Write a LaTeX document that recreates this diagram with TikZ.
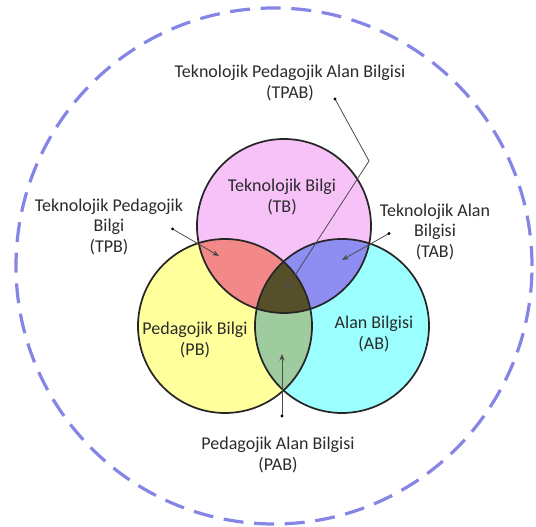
\documentclass[tikz,border=0pt]{standalone}
\usepackage{fontspec}
\setmainfont{Carlito}
\usepackage{xcolor}
\usepackage{tikz}
\usetikzlibrary{arrows.meta}

\definecolor{tbpink}{HTML}{F7C2F7}
\definecolor{pbyellow}{HTML}{FFFF9C}
\definecolor{abcyan}{HTML}{9CFFFF}
\definecolor{tpbred}{HTML}{F28888}
\definecolor{tabblue}{HTML}{8E8EF2}
\definecolor{pabgreen}{HTML}{9FCC9F}
\definecolor{tpabolive}{HTML}{56502A}
\definecolor{ringblue}{HTML}{8585E6}
\definecolor{labelgray}{HTML}{2B2B2B}

\begin{document}
\begin{tikzpicture}[x=0.75pt, y=0.75pt, >={Stealth[length=5pt, width=4pt]},
    lbl/.style={font=\fontsize{13.5}{15.4}\selectfont, text=labelgray, align=center},
    pointer/.style={->, draw=black!70, line width=0.6pt},
    pin/.style={fill=black, radius=1.6}]
  \useasboundingbox (0,0) rectangle (536,527);
  % dashed outer ring
  \draw[ringblue, line width=2.4pt, dash pattern=on 15pt off 8pt] (274,261) circle (258);
  % the three knowledge circles
  \coordinate (tb) at (284,301);
  \coordinate (pb) at (225,201);
  \coordinate (ab) at (342,201);
  \fill[tbpink]   (tb) circle (87);
  \fill[pbyellow] (pb) circle (87);
  \fill[abcyan]   (ab) circle (87);
  % pairwise overlaps
  \begin{scope}
    \clip (tb) circle (87);
    \fill[tpbred]  (pb) circle (87);
    \fill[tabblue] (ab) circle (87);
  \end{scope}
  \begin{scope}
    \clip (pb) circle (87);
    \fill[pabgreen] (ab) circle (87);
    \clip (ab) circle (87);
    \fill[tpabolive] (tb) circle (87);           % centre, all three
  \end{scope}
  \foreach \c in {tb,pb,ab}
    \draw[black!85, line width=1.3pt] (\c) circle (87);
  % labels
  \node[lbl] (tpabl) at (290,444) {Teknolojik Pedagojik Alan Bilgisi\\(TPAB)};
  \node[lbl] (tbl)   at (282,330) {Teknolojik Bilgi\\(TB)};
  \node[lbl] (tpbl)  at (109,300) {Teknolojik Pedagojik\\Bilgi\\(TPB)};
  \node[lbl] (tabl)  at (435,295) {Teknolojik Alan\\Bilgisi\\(TAB)};
  \node[lbl] (pbl)   at (195,187) {Pedagojik Bilgi\\(PB)};
  \node[lbl] (abl)   at (374,193) {Alan Bilgisi\\(AB)};
  \node[lbl] (pabl)  at (278,72)  {Pedagojik Alan Bilgisi\\(PAB)};
  % pointers: dot at the free end, arrow into the region
  \coordinate (tpabdot) at (335,428);
  \coordinate (tpabbend) at (369,366);
  \coordinate (tpabtip) at (285.5,237);
  \coordinate (tpbdot) at (172.6,298);
  \coordinate (tpbtip) at (219,271);
  \coordinate (tabdot) at (389,293.5);
  \coordinate (tabtip) at (342,267);
  \coordinate (pabdot) at (282,111);
  \coordinate (pabtip) at (282,173);
  \draw[pointer] (tpabdot) -- (tpabbend) -- (tpabtip);
  \draw[pointer] (tpbdot) -- (tpbtip);
  \draw[pointer] (tabdot) -- (tabtip);
  \draw[pointer] (pabdot) -- (pabtip);
  \foreach \d in {tpabdot,tpbdot,tabdot,pabdot}
    \fill[pin] (\d) circle;
\end{tikzpicture}
\end{document}
